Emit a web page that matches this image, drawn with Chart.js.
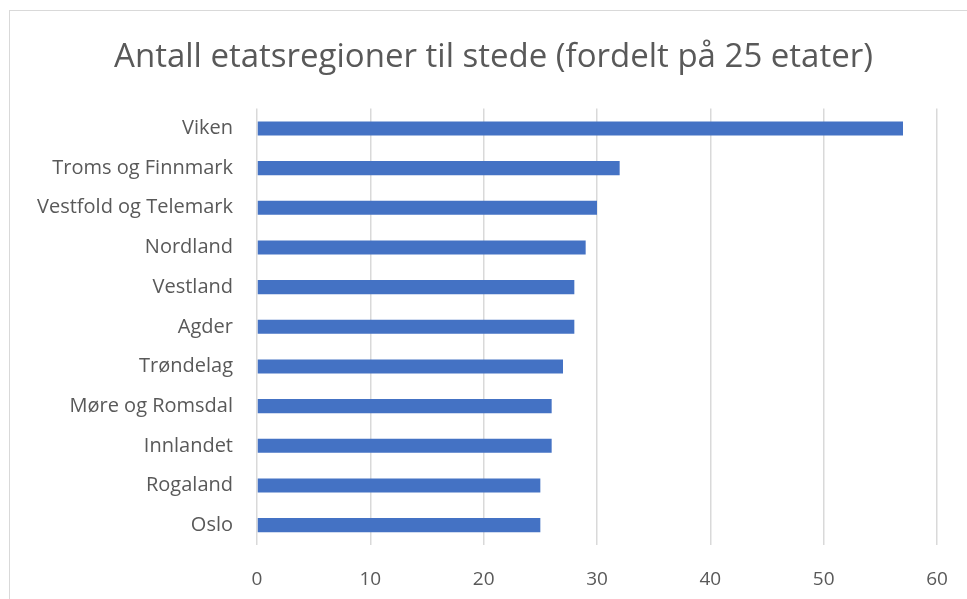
<!DOCTYPE html>
<html>
<head>
<meta charset="utf-8">
<script src="https://cdn.jsdelivr.net/npm/chart.js@4"></script>
<style>
html,body{margin:0;padding:0;background:#fff;}
#wrap{position:absolute;left:0;top:0;width:967px;height:599px;}
#frame{position:absolute;left:9px;top:10px;width:1000px;height:700px;border:1.5px solid #d9d9d9;pointer-events:none;}
</style>
</head>
<body>
<div id="wrap"><canvas id="c" width="967" height="599"></canvas></div>
<div id="frame"></div>
<script>
const categories = ["Viken","Troms og Finnmark","Vestfold og Telemark","Nordland","Vestland","Agder","Trøndelag","Møre og Romsdal","Innlandet","Rogaland","Oslo"];
const values = [57,32,30,29,28,28,27,26,26,25,25];
const titleText = "Antall etatsregioner til stede (fordelt på 25 etater)";
const xMin = 0, xMax = 60, xStep = 10;

const FONT = "'Open Sans', sans-serif";

// centre the title over the whole frame rather than the padded layout box
const titleCentre = {
  id: 'titleCentre',
  afterLayout(chart) {
    const t = chart.titleBlock;
    if (t) { t.left = 20; t.right = 967; t.width = t.right - t.left; }
  }
};

new Chart(document.getElementById('c'), {
  type: 'bar',
  data: {
    labels: categories,
    datasets: [{
      data: values,
      backgroundColor: '#4472c4',
      categoryPercentage: 1,
      barPercentage: 0.355
    }]
  },
  options: {
    indexAxis: 'y',
    responsive: false,
    animation: false,
    layout: { padding: { left: 0, right: 30, top: 0, bottom: 0 } },
    plugins: {
      legend: { display: false },
      tooltip: { enabled: false },
      title: {
        display: true,
        text: titleText,
        color: '#595959',
        font: { family: FONT, size: 33, weight: 'normal', lineHeight: 1.2 },
        padding: { top: 38, bottom: 31 }
      }
    },
    scales: {
      x: {
        min: xMin, max: xMax,
        ticks: { stepSize: xStep, color: '#595959', font: { family: FONT, size: 19 }, padding: 23 },
        grid: { color: '#d9d9d9', lineWidth: 1.5, drawTicks: false },
        border: { display: false },
        afterFit: s => { s.height = 54; s.paddingLeft = 0; s.paddingRight = 0; }
      },
      y: {
        ticks: { color: '#595959', font: { family: FONT, size: 20 }, padding: 24 },
        grid: { display: false, drawTicks: false },
        border: { display: false },
        afterFit: s => { s.width = 257; s.paddingTop = 0; s.paddingBottom = 0; }
      }
    }
  },
  plugins: [titleCentre]
});
</script>
</body>
</html>
